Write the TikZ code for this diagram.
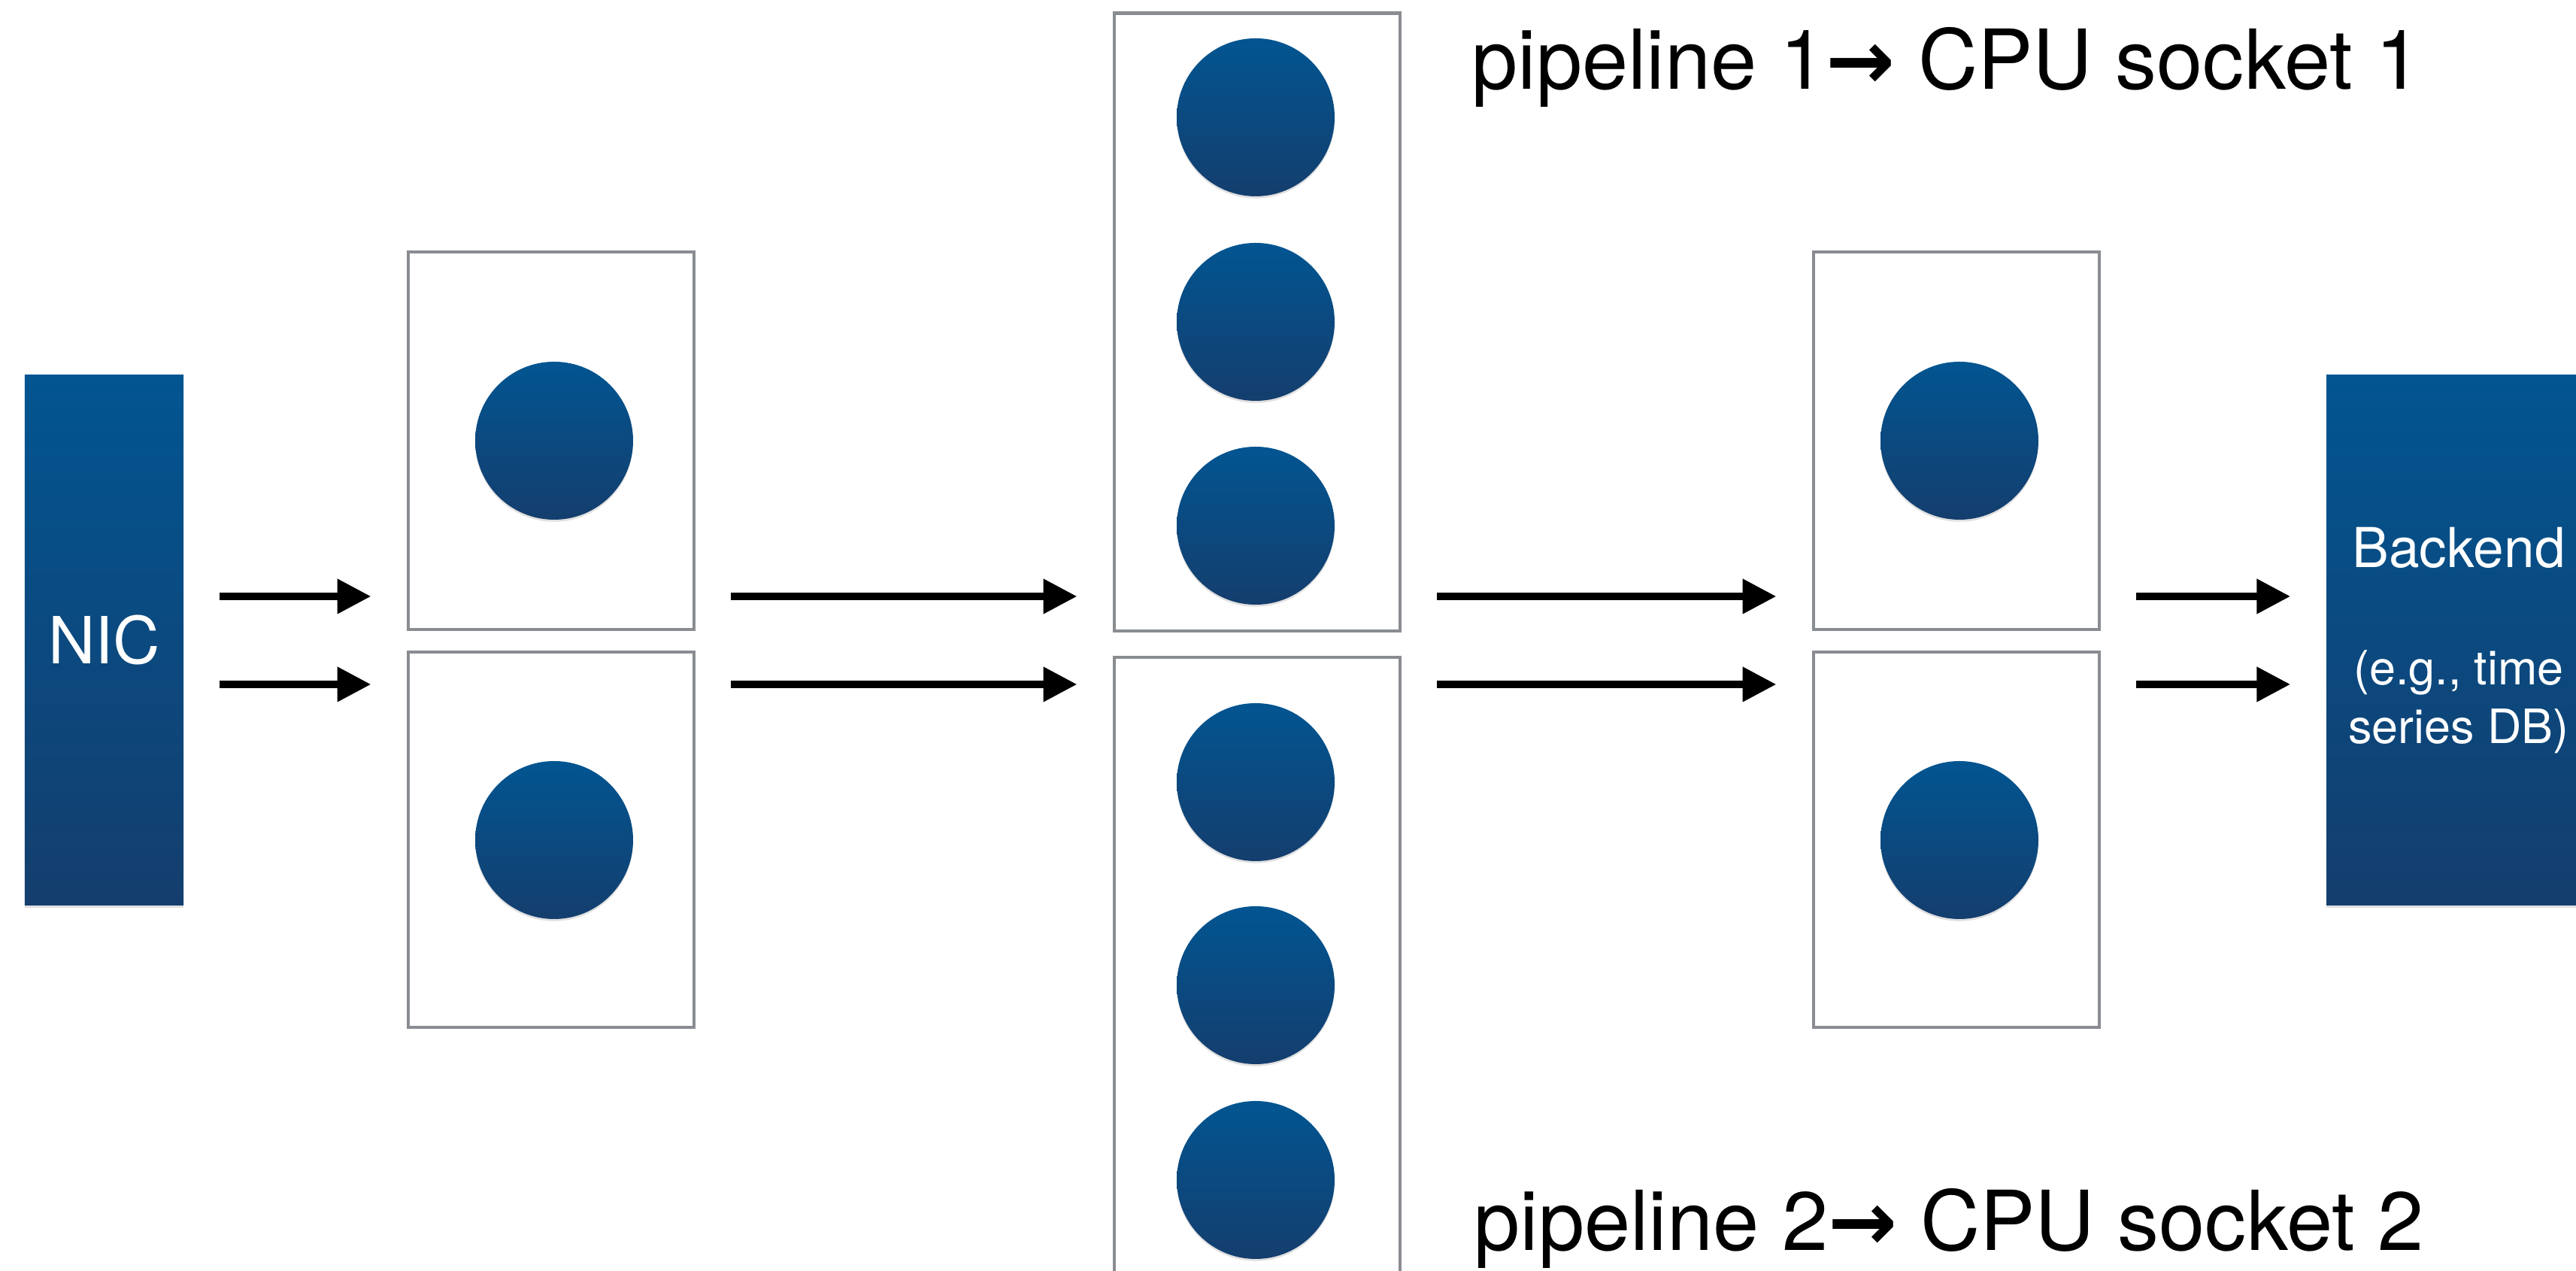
\documentclass[tikz,border=0pt]{standalone}
\usepackage{fontspec}
\setsansfont{TeX Gyre Heros}
\newfontfamily\arrowfont{DejaVu Sans}
\usetikzlibrary{arrows.meta, shadows}
\definecolor{nicblue}{RGB}{2,85,145}
\definecolor{nicdark}{RGB}{20,62,110}
\definecolor{boxgray}{RGB}{137,140,145}

\begin{document}
\begin{tikzpicture}[font=\sffamily,
	halo/.style={drop shadow={shadow xshift=0pt, shadow yshift=-0.8pt, opacity=0.12, fill=black}},
	block/.style={rectangle, inner sep=0pt, top color=nicblue, bottom color=nicdark, text=white, minimum width=2.11cm, minimum height=7.05cm, halo},
	stagebox/.style={rectangle, draw=boxgray, line width=1.4pt, fill=white, inner sep=0pt, minimum width=3.8cm},
	core/.style={circle, inner sep=0pt, minimum size=2.1cm, top color=nicblue, bottom color=nicdark, halo},
	flow/.style={-{Triangle[length=0.45cm, width=0.44cm]}, line width=3pt, shorten <=0.47cm, shorten >=0.47cm},
	socket/.style={anchor=base west, font=\sffamily\fontsize{31.3}{36}\selectfont}]
	\useasboundingbox (0,0) rectangle (34.26,16.9);
	\coordinate (rowa) at (0,8.97);
	\coordinate (rowb) at (0,7.80);

	\node[block, font=\sffamily\fontsize{24.6}{28}\selectfont] (nic) at (1.385,8.385) {NIC};
	\node[block, minimum width=3.52cm, align=center, font=\sffamily\fontsize{17.9}{22.1}\selectfont] (backend) at (32.70,8.385) {{\fontsize{20.8}{22.1}\selectfont Backend}\\[0.79cm](e.g., time\\series DB)};

	\node[stagebox, minimum height=5.02cm] (s1a) at (7.33,11.04) {};
	\node[stagebox, minimum height=4.99cm] (s1b) at (7.33,5.735) {};
	\node[stagebox, minimum height=8.21cm] (s2a) at (16.72,12.615) {};
	\node[stagebox, minimum height=8.66cm] (s2b) at (16.72,3.83) {};
	\node[stagebox, minimum height=5.02cm] (s3a) at (26.02,11.04) {};
	\node[stagebox, minimum height=4.99cm] (s3b) at (26.02,5.735) {};

	\node[core] (c1a) at (7.37,11.04) {};
	\node[core] (c1b) at (7.37,5.73) {};
	\node[core] (c2a) at (16.70,15.34) {};
	\node[core] (c2b) at (16.70,12.62) {};
	\node[core] (c2c) at (16.70,9.91) {};
	\node[core] (c2d) at (16.70,6.50) {};
	\node[core] (c2e) at (16.70,3.80) {};
	\node[core] (c2f) at (16.70,1.21) {};
	\node[core] (c3a) at (26.06,11.04) {};
	\node[core] (c3b) at (26.06,5.73) {};

	\draw[flow] (nic.east |- rowa) -- (s1a.west |- rowa);
	\draw[flow] (nic.east |- rowb) -- (s1b.west |- rowb);
	\draw[flow] (s1a.east |- rowa) -- (s2a.west |- rowa);
	\draw[flow] (s1b.east |- rowb) -- (s2b.west |- rowb);
	\draw[flow] (s2a.east |- rowa) -- (s3a.west |- rowa);
	\draw[flow] (s2b.east |- rowb) -- (s3b.west |- rowb);
	\draw[flow] (s3a.east |- rowa) -- (backend.west |- rowa);
	\draw[flow] (s3b.east |- rowb) -- (backend.west |- rowb);

	\node[socket] (pipea) at (19.45,15.71) {pipeline 1{\arrowfont\bfseries →} CPU socket 1};
	\node[socket] (pipeb) at (19.48,0.27) {pipeline 2{\arrowfont\bfseries →} CPU socket 2};
\end{tikzpicture}
\end{document}
